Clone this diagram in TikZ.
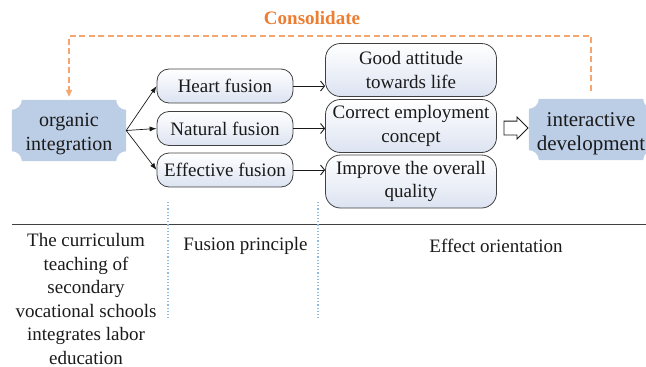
\documentclass[tikz,border=0pt]{standalone}
\usepackage{fontspec}
\setmainfont{Liberation Serif}
\usetikzlibrary{arrows.meta,shapes.arrows,backgrounds}
\definecolor{ink}{HTML}{1A1A1A}
\definecolor{frame}{HTML}{404040}
\definecolor{paleblue}{HTML}{BCCDE6}
\definecolor{mist}{HTML}{DCE3F1}
\definecolor{tangerine}{HTML}{ED7D31}
\definecolor{peach}{HTML}{F4A66E}
\definecolor{sky}{HTML}{8FBBE3}

% blue plate with the four corners cut inwards, lifted by #2 over its node
\newcommand\plaque[2]{%
 \fill[paleblue] ([yshift=-10pt+#2]#1.north west) arc[start angle=-90,end angle=0,radius=10pt]
  -- ([xshift=-10pt,yshift=#2]#1.north east) arc[start angle=180,end angle=270,radius=10pt]
  -- ([yshift=10pt+#2]#1.south east) arc[start angle=90,end angle=180,radius=10pt]
  -- ([xshift=10pt,yshift=#2]#1.south west) arc[start angle=0,end angle=90,radius=10pt] -- cycle;}

\begin{document}
\begin{tikzpicture}[x=1pt,y=-1pt,every node/.style={text=ink,align=center,font=\fontsize{19}{23.5}\selectfont},
 pill/.style={draw=frame,line width=.8pt,rounded corners=12pt,top color=white,bottom color=mist,minimum width=136pt,minimum height=34pt,inner sep=0pt},
 effect/.style={pill,rounded corners=15pt,minimum width=171pt,minimum height=53pt},
 plate/.style={inner sep=0pt,minimum height=61pt,font=\fontsize{20}{24}\selectfont},
 fan/.style={-{Latex[length=7pt,width=5pt]},ink,line width=.7pt},
 feed/.style={-{Straight Barb[length=4pt,width=10pt]},ink,line width=.9pt},
 loop/.style={peach,line width=1.3pt,dash pattern=on 6pt off 3.5pt,-{Triangle[length=7pt,width=6pt]}},
 push/.style={draw=ink,fill=white,line width=.9pt,single arrow,single arrow head extend=4pt,inner sep=6.5pt,minimum height=24pt},
 split/.style={sky,line width=1.2pt,dotted}]
\useasboundingbox (0,0) rectangle (646,367);

\node[plate,minimum width=114pt] (organic) at (69,134.5) {organic\\integration};
\node[plate,minimum width=124pt,font=\fontsize{21}{24}\selectfont] (develop) at (591,133.5) {interactive\\development};
\begin{scope}[on background layer]
\plaque{organic}{4pt}
\plaque{develop}{4pt}
\end{scope}

\node[pill] (heart) at (225,86) {Heart fusion};
\node[pill] (natural) at (225,128.5) {Natural fusion};
\node[pill] (effective) at (225,170) {Effective fusion};

\node[effect] (attitude) at (411,70) {Good attitude\\towards life};
\node[effect] (employ) at (411,126) {Correct employment\\concept};
\node[effect] (quality) at (411,181.5) {Improve the overall\\quality};

\foreach \f in {heart,natural,effective}
 \draw[fan] ([yshift=4pt]organic.east) -- (\f.west);
\draw[feed] (heart.east) -- (heart -| attitude.west);
\draw[feed] (natural.east) -- (natural -| employ.west);
\draw[feed] (effective.east) -- (effective -| quality.west);
\node[push] (onward) at (512.5,128) {};

% feedback loop over the top
\node[font=\fontsize{19}{23}\selectfont\bfseries,text=tangerine] (consol) at (312,18) {Consolidate};
\coordinate (top) at (312,36);
\draw[loop,shorten <=12pt,shorten >=7pt] (develop.north) -- (develop.north |- top) -| (organic.north);

% stage captions
\draw[frame,line width=.8pt] (12,224) -- (646,224);
\draw[split] (168,202) -- (168,318);
\draw[split] (318,202) -- (318,318);
\node (course) at (86,299) {The curriculum\\teaching of\\secondary\\vocational schools\\integrates labor\\education};
\node (principle) at (245.5,246) {Fusion principle};
\node (orient) at (496,246) {Effect orientation};
\end{tikzpicture}
\end{document}
